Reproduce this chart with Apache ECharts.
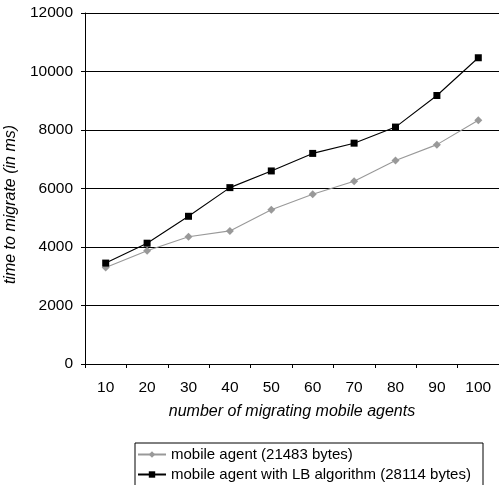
<!DOCTYPE html>
<html>
<head>
<meta charset="utf-8">
<script src="https://cdn.jsdelivr.net/npm/echarts@6/dist/echarts.min.js"></script>
<style>html,body{margin:0;padding:0;background:#fff}#c{width:499px;height:485px}</style>
</head>
<body>
<div id="c"></div>
<script>
const categories = ['10','20','30','40','50','60','70','80','90','100'];
const mobileAgent = [3300, 3870, 4350, 4550, 5270, 5800, 6250, 6960, 7500, 8330];
const mobileAgentLB = [3450, 4130, 5050, 6030, 6600, 7200, 7550, 8100, 9180, 10470];
const seriesNames = ['mobile agent (21483 bytes)', 'mobile agent with LB algorithm (28114 bytes)'];

const font = 'Liberation Sans, Arial, Helvetica, sans-serif';
const chart = echarts.init(document.getElementById('c'), null, {renderer: 'canvas'});
chart.setOption({
  animation: false,
  backgroundColor: '#fff',
  textStyle: {fontFamily: font},
  grid: {left: 85, right: 0, top: 13, bottom: 121, containLabel: false, outerBoundsMode: 'none'},
  legend: {
    orient: 'vertical',
    left: 135,
    top: 443,
    height: 80,
    itemWidth: 28,
    itemHeight: 8,
    itemGap: 1,
    padding: [2, 2, 20, 2],
    borderColor: '#000',
    borderWidth: 1,
    borderRadius: 0,
    textStyle: {fontFamily: font, fontSize: 15, color: '#000', lineHeight: 19, width: 310},
    data: seriesNames
  },
  xAxis: {
    type: 'category',
    data: categories,
    boundaryGap: true,
    name: 'number of migrating mobile agents',
    nameLocation: 'middle',
    nameGap: 40,
    nameTextStyle: {fontFamily: font, fontSize: 16, fontStyle: 'italic', color: '#000'},
    axisLine: {lineStyle: {color: '#000', width: 1}},
    axisTick: {show: true, length: 4, alignWithLabel: false, lineStyle: {color: '#000'}},
    axisLabel: {fontFamily: font, fontSize: 15.5, color: '#000', margin: 16},
    splitLine: {show: false}
  },
  yAxis: {
    type: 'value',
    min: 0,
    max: 12000,
    interval: 2000,
    name: 'time to migrate (in ms)',
    nameLocation: 'middle',
    nameGap: 60,
    nameTextStyle: {fontFamily: font, fontSize: 16, fontStyle: 'italic', color: '#000', padding: [0, 32, 0, 0]},
    axisLine: {show: true, lineStyle: {color: '#000', width: 1}},
    axisTick: {show: true, length: 4, lineStyle: {color: '#000'}},
    axisLabel: {fontFamily: font, fontSize: 15.5, color: '#000', margin: 12, formatter: v => String(v)},
    splitLine: {show: true, lineStyle: {color: '#000', width: 1}}
  },
  series: [
    {
      name: seriesNames[0],
      type: 'line',
      data: mobileAgent,
      symbol: 'diamond',
      symbolSize: 8,
      color: '#999999',
      lineStyle: {color: '#999999', width: 1.1},
      itemStyle: {color: '#999999'}
    },
    {
      name: seriesNames[1],
      type: 'line',
      data: mobileAgentLB,
      symbol: 'rect',
      symbolSize: 7,
      color: '#000',
      lineStyle: {color: '#000', width: 1.1},
      itemStyle: {color: '#000'}
    }
  ]
});
</script>
</body>
</html>
